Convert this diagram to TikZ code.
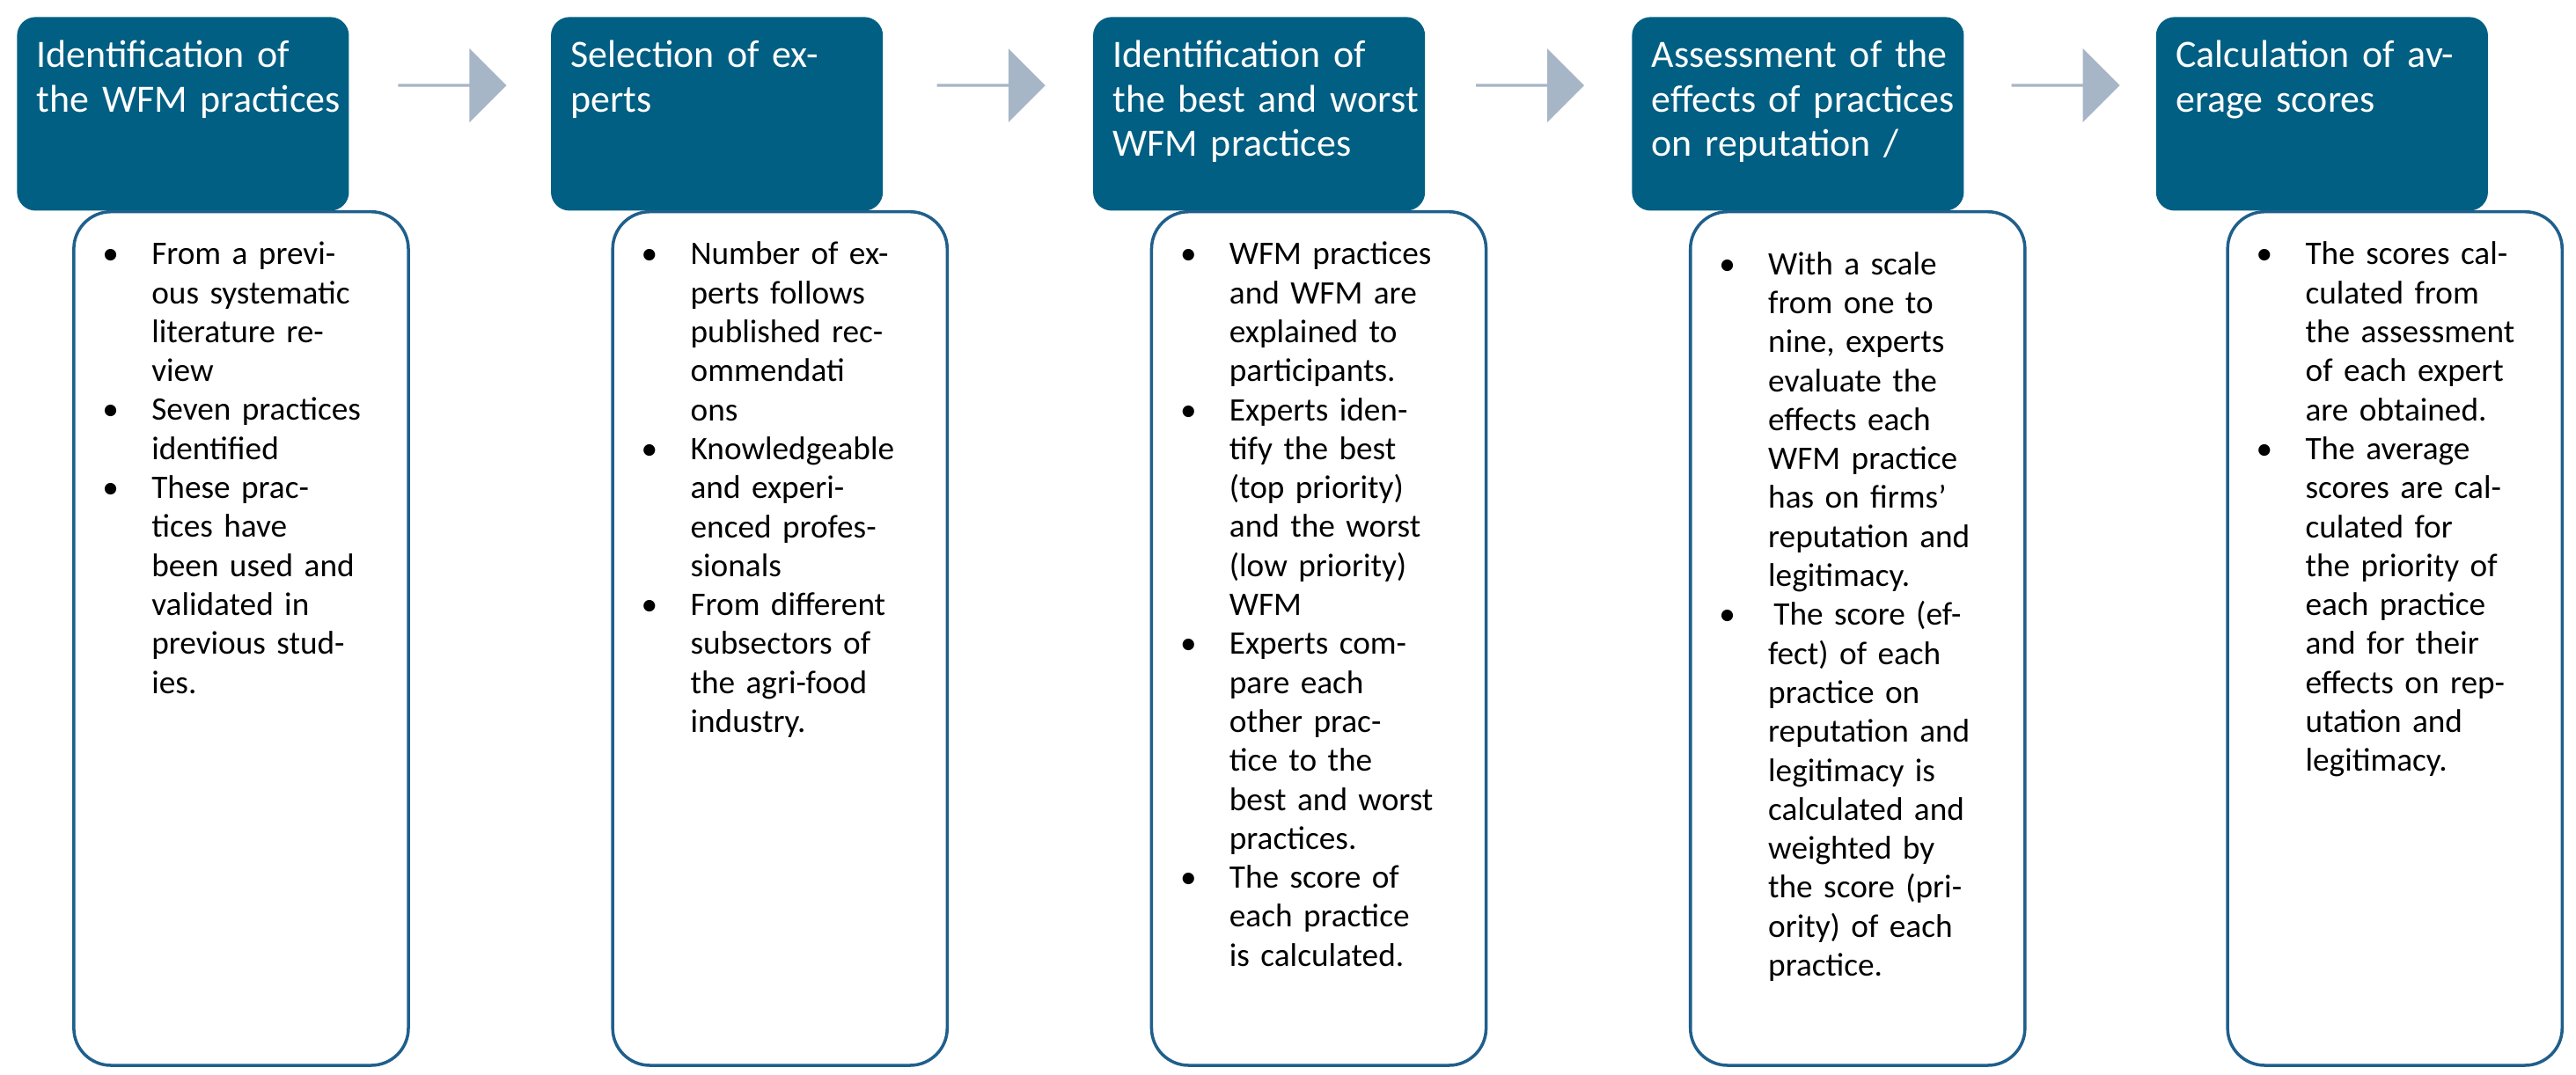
\documentclass[tikz,border=0pt]{standalone}
\usepackage{fontspec}
\setmainfont{Carlito}
\usetikzlibrary{shapes.arrows}
\definecolor{headblue}{HTML}{005F83}
\definecolor{lineblue}{HTML}{1F5F8C}
\definecolor{arrowgrey}{HTML}{A7B6C6}
\newcommand{\bitem}[1]{\hangindent=1.5em\hangafter=1\noindent\makebox[1.5em][l]{\textbullet}#1\par}
\begin{document}
\begin{tikzpicture}[x=0.018667cm, y=-0.018667cm,
  head/.style={draw=none, fill=headblue, rounded corners=6pt, anchor=north west, minimum width=3.77cm, minimum height=2.2cm},
  headtext/.style={anchor=north west, text=white, font=\fontsize{12.5}{14.5}\selectfont, text width=3.5cm, align=left, inner sep=0pt},
  body/.style={draw=lineblue, line width=1pt, fill=white, rounded corners=12pt, anchor=north west, minimum width=3.8cm, minimum height=9.7cm},
  bodytext/.style={anchor=north west, font=\fontsize{10.6}{12.6}\selectfont, text width=2.95cm, align=left, inner sep=0pt},
  steparrow/.style={single arrow, draw=none, fill=arrowgrey, minimum height=1.23cm, minimum width=0.84cm, single arrow head extend=0.18cm, inner sep=0pt, anchor=west}
]
\useasboundingbox (0,0) rectangle (1568,654.6);

% header boxes
\node[head] (h1) at (10,10) {};
\node[head] (h2) at (335,10) {};
\node[head] (h3) at (665,10) {};
\node[head] (h4) at (993,10) {};
\node[head] (h5) at (1312,10) {};
\node[headtext] (t1) at (22,24) {Identification of the WFM practices};
\node[headtext] (t2) at (347,24) {Selection of experts};
\node[headtext] (t3) at (677,24) {Identification of the best and worst WFM practices};
\node[headtext] (t4) at (1005,24) {Assessment of the effects of practices on reputation /};
\node[headtext] (t5) at (1324,24) {Calculation of average scores};

% step arrows
\node[steparrow] (a1) at (242,52) {};
\node[steparrow] (a2) at (570,52) {};
\node[steparrow] (a3) at (898,52) {};
\node[steparrow] (a4) at (1224,52) {};

% body boxes
\node[body] (b1) at (44,128) {};
\node[body] (b2) at (372,128) {};
\node[body] (b3) at (700,128) {};
\node[body] (b4) at (1028,128) {};
\node[body] (b5) at (1355,128) {};

\node[bodytext] (s1) at (62,147) {%
\bitem{From a previous systematic literature review}
\bitem{Seven practices identified}
\bitem{These practices have been used and validated in previous studies.}};
\node[bodytext] (s2) at (390,147) {%
\bitem{Number of experts follows published recommendati ons}
\bitem{Knowledgeable and experienced professionals}
\bitem{From different subsectors of the agri-food industry.}};
\node[bodytext] (s3) at (718,147) {%
\bitem{WFM practices and WFM are explained to participants.}
\bitem{Experts identify the best (top priority) and the worst (low priority) WFM}
\bitem{Experts compare each other practice to the best and worst practices.}
\bitem{The score of each practice is calculated.}};
\node[bodytext] (s4) at (1046,153) {%
\bitem{With a scale from one to nine, experts evaluate the effects each WFM practice has on firms’ reputation and legitimacy.}
\bitem{\,The score (effect) of each practice on reputation and legitimacy is calculated and weighted by the score (priority) of each practice.}};
\node[bodytext] (s5) at (1373,147) {%
\bitem{The scores calculated from the assessment of each expert are obtained.}
\bitem{The average scores are calculated for the priority of each practice and for their effects on reputation and legitimacy.}};
\end{tikzpicture}
\end{document}
